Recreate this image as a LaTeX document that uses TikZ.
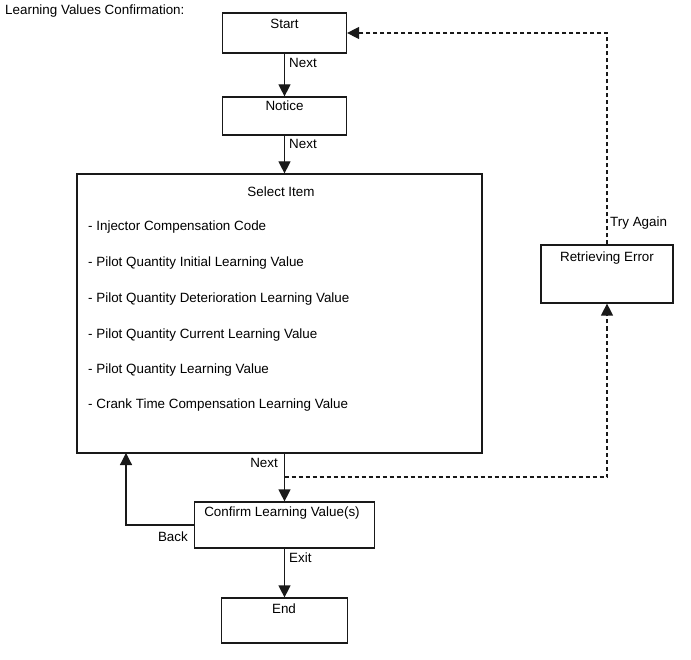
\documentclass[tikz,border=0pt]{standalone}
\usepackage{fontspec}
\setmainfont{Liberation Sans}
\usetikzlibrary{arrows.meta}
\begin{document}
\begin{tikzpicture}[x=1pt,y=-1pt,
  box/.style={draw=black!90, line width=1.2pt, rectangle, inner sep=0pt},
  txt/.style={inner sep=0pt, font=\fontsize{13.4}{15}\selectfont},
  arr/.style={draw=black!90, line width=1.2pt, -{Triangle[length=12pt,width=12pt]}},
  dsh/.style={dash pattern=on 4pt off 3pt}]
\useasboundingbox[fill=white] (0,0) rectangle (691,660);
% title
\node[txt, anchor=west] (title) at (5,11) {Learning Values Confirmation:};
% boxes
\node[box, minimum width=124pt, minimum height=40pt] (start) at (284.5,33) {};
\node[box, minimum width=124pt, minimum height=38pt] (notice) at (284.5,116) {};
\node[box, minimum width=405pt, minimum height=279pt] (select) at (279.5,313.5) {};
\node[box, minimum width=132pt, minimum height=58pt] (retr) at (607,274) {};
\node[box, minimum width=180pt, minimum height=46pt] (confirm) at (284.5,525) {};
\node[box, minimum width=126pt, minimum height=45pt] (end) at (284.5,620.5) {};
% box texts
\node[txt] (tstart) at (284.5,24) {Start};
\node[txt] (tnotice) at (284.5,106) {Notice};
\node[txt] (tselect) at (281,192) {Select Item};
\node[txt] (tretr) at (607,258) {Retrieving Error};
\node[txt] (tconf) at (282,513) {Confirm Learning Value(s)};
\node[txt] (tend) at (284,609) {End};
% items
\node[txt, anchor=west] (i1) at (88,227) {- Injector Compensation Code};
\node[txt, anchor=west] (i2) at (88,263) {- Pilot Quantity Initial Learning Value};
\node[txt, anchor=west] (i3) at (88,299) {- Pilot Quantity Deterioration Learning Value};
\node[txt, anchor=west] (i4) at (88,335) {- Pilot Quantity Current Learning Value};
\node[txt, anchor=west] (i5) at (88,370) {- Pilot Quantity Learning Value};
\node[txt, anchor=west] (i6) at (88,405) {- Crank Time Compensation Learning Value};
% connectors
\draw[arr] (start) -- (notice);
\draw[arr] (notice.south) -- (notice.south |- select.north);
\draw[arr] (confirm.north |- select.south) -- (confirm.north);
\draw[arr] (confirm) -- (end);
\coordinate (bk) at (126,453);
\draw[arr] (confirm.west) -| (bk);
\coordinate (dj) at (284.5,477);
\draw[arr, dsh] (dj) -| (retr.south);
\draw[arr, dsh] (retr.north) |- (start.east);
% labels
\node[txt, anchor=west] (l1) at (289,63) {Next};
\node[txt, anchor=west] (l2) at (289,144) {Next};
\node[txt, anchor=east] (l3) at (278,463) {Next};
\node[txt, anchor=east] (l4) at (188,537) {Back};
\node[txt, anchor=west] (l5) at (289,558) {Exit};
\node[txt, anchor=west] (l6) at (610,223) {Try Again};
\end{tikzpicture}
\end{document}
